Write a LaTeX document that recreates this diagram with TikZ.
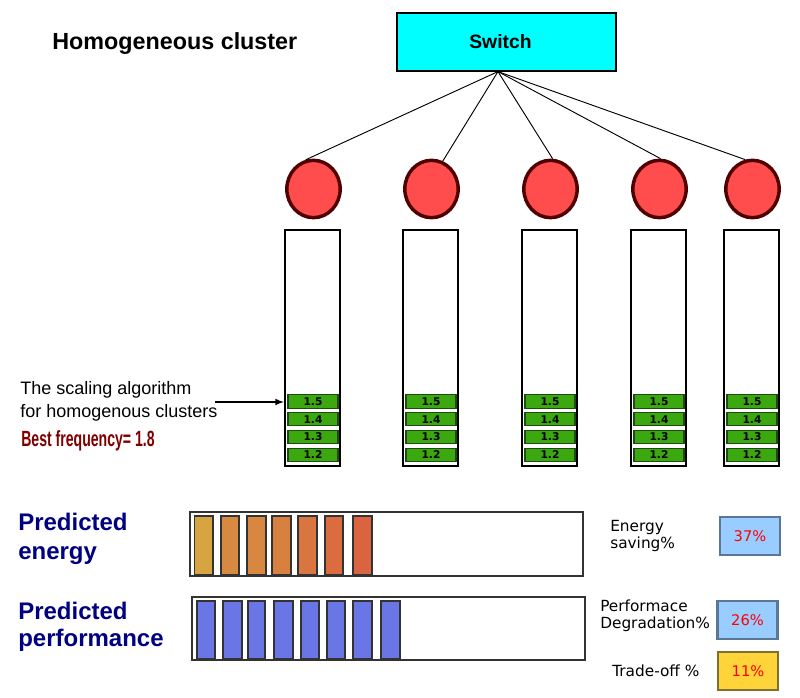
\documentclass[tikz,border=0pt]{standalone}
\usepackage{fontspec}
\setmainfont{Liberation Sans}
\newfontfamily\dejavu{DejaVu Sans}
\usepackage{tikz}
\usetikzlibrary{shapes, positioning, arrows, calc}
\definecolor{switchcyan}{RGB}{0,255,255}
\definecolor{cpured}{RGB}{255,77,77}
\definecolor{cpuborder}{RGB}{80,0,0}
\definecolor{freqgreen}{RGB}{58,168,14}
\definecolor{freqborder}{RGB}{30,75,20}
\definecolor{bestred}{RGB}{128,0,0}
\definecolor{headnavy}{RGB}{0,0,128}
\definecolor{ebarlo}{RGB}{214,165,65}
\definecolor{ebarhi}{RGB}{218,100,64}
\definecolor{pbarblue}{RGB}{106,117,230}
\definecolor{resblue}{RGB}{153,204,255}
\definecolor{resblueborder}{RGB}{90,120,150}
\definecolor{resyellow}{RGB}{255,212,58}
\definecolor{resyellowborder}{RGB}{130,110,45}

\begin{document}
\begin{tikzpicture}[x=0.75pt, y=-0.75pt,
  cpu/.style={ellipse, draw=cpuborder, fill=cpured, line width=2.6pt, minimum width=40pt, minimum height=43pt, inner sep=0pt},
  column/.style={draw=black, line width=1.5pt, minimum width=41.25pt, minimum height=177pt, inner sep=0pt},
  fbar/.style={draw=freqborder, fill=freqgreen, line width=0.8pt, minimum width=37.5pt, minimum height=10pt, inner sep=0pt, font=\dejavu\bfseries\fontsize{8}{8}\selectfont},
  result/.style={line width=2.2pt, minimum width=45pt, minimum height=28.5pt, inner sep=0pt, text=red, font=\dejavu\fontsize{11}{12}\selectfont},
  reslabel/.style={anchor=west, inner sep=0pt, align=left, font=\dejavu\fontsize{11.5}{12.75}\selectfont},
  headline/.style={anchor=west, inner sep=0pt, align=left, text=headnavy, font=\bfseries\fontsize{18}{21.5}\selectfont},
  barbox/.style={draw=black!80, line width=1.1pt}]
\useasboundingbox (0,0) rectangle (800,698);

% switch and the nodes of the cluster
\node[anchor=west, inner sep=0pt, font=\bfseries\fontsize{17.5}{20}\selectfont] (title) at (52,44) {Homogeneous cluster};
\node[draw=black, fill=switchcyan, line width=0.9pt, minimum width=164.25pt, minimum height=43.5pt, font=\bfseries\fontsize{14.5}{16}\selectfont] (sw) at (506.5,42) {\kern-9pt Switch};

\foreach \i/\x/\a in {1/312.5/105, 2/430.5/68, 3/549.5/86, 4/658.5/88, 5/751.5/104}
{
  \node[cpu] (c\i) at (\x+1,189) {};
  \node[column] (col\i) at (\x,348) {};
  \foreach \k/\f in {1/1.5, 2/1.4, 3/1.3, 4/1.2}
    \node[fbar] (b\i-\k) at (\x+0.5,401.5+17.8*\k-17.8) {\f};
  \draw[line width=0.7pt] ([xshift=-6.4pt]sw.south) -- (c\i.\a);
}

% the scaling algorithm
\node[anchor=west, inner sep=0pt, align=left, font=\fontsize{13.5}{17}\selectfont] (algo) at (20,401.5) {The scaling algorithm\\for homogenous clusters};
\node[anchor=west, inner sep=0pt, text=bestred, font=\bfseries\fontsize{16.5}{18}\selectfont] (best) at (21,441) {\scalebox{0.64}[1]{Best frequency= 1.8}};
\coordinate (atail) at (215,402);
\draw[-latex, line width=1.2pt] (atail) -- (atail -| col1.west);

% predicted energy
\node[headline] (energy) at (18,539) {Predicted\\energy};
\draw[barbox] (190,512) rectangle (583,576);
\foreach \x/\w/\p in {194.7/18.3/0, 221/18/43, 247/19/46, 272/19/57, 298/19/72, 325/18/88, 353/19/100}
  \draw[draw=black!80, line width=1pt, fill=ebarhi!\p!ebarlo] (\x,516) rectangle ++(\w,59);

% predicted performance
\node[headline, font=\bfseries\fontsize{18}{20.25}\selectfont] (perf) at (18,626.5) {Predicted\\performance};
\draw[barbox] (192,597) rectangle (585,660);
\foreach \x/\w in {197/18, 223/19, 248/17, 274/19, 301/18, 327/18, 353/19, 381/19}
  \draw[draw=black!80, line width=1pt, fill=pbarblue] (\x,601) rectangle ++(\w,58);

% results
\node[reslabel] (esave) at (610,536.5) {Energy\\saving\%};
\node[result, draw=resblueborder, fill=resblue] (r1) at (750,536) {37\%};
\node[reslabel] (pdeg) at (600,615.5) {Performace\\Degradation\%};
\node[result, draw=resblueborder, fill=resblue] (r2) at (747.5,620) {26\%};
\node[reslabel] (toff) at (612,671) {Trade-off \%};
\node[result, draw=resyellowborder, fill=resyellow] (r3) at (748,671) {11\%};
\end{tikzpicture}
\end{document}
